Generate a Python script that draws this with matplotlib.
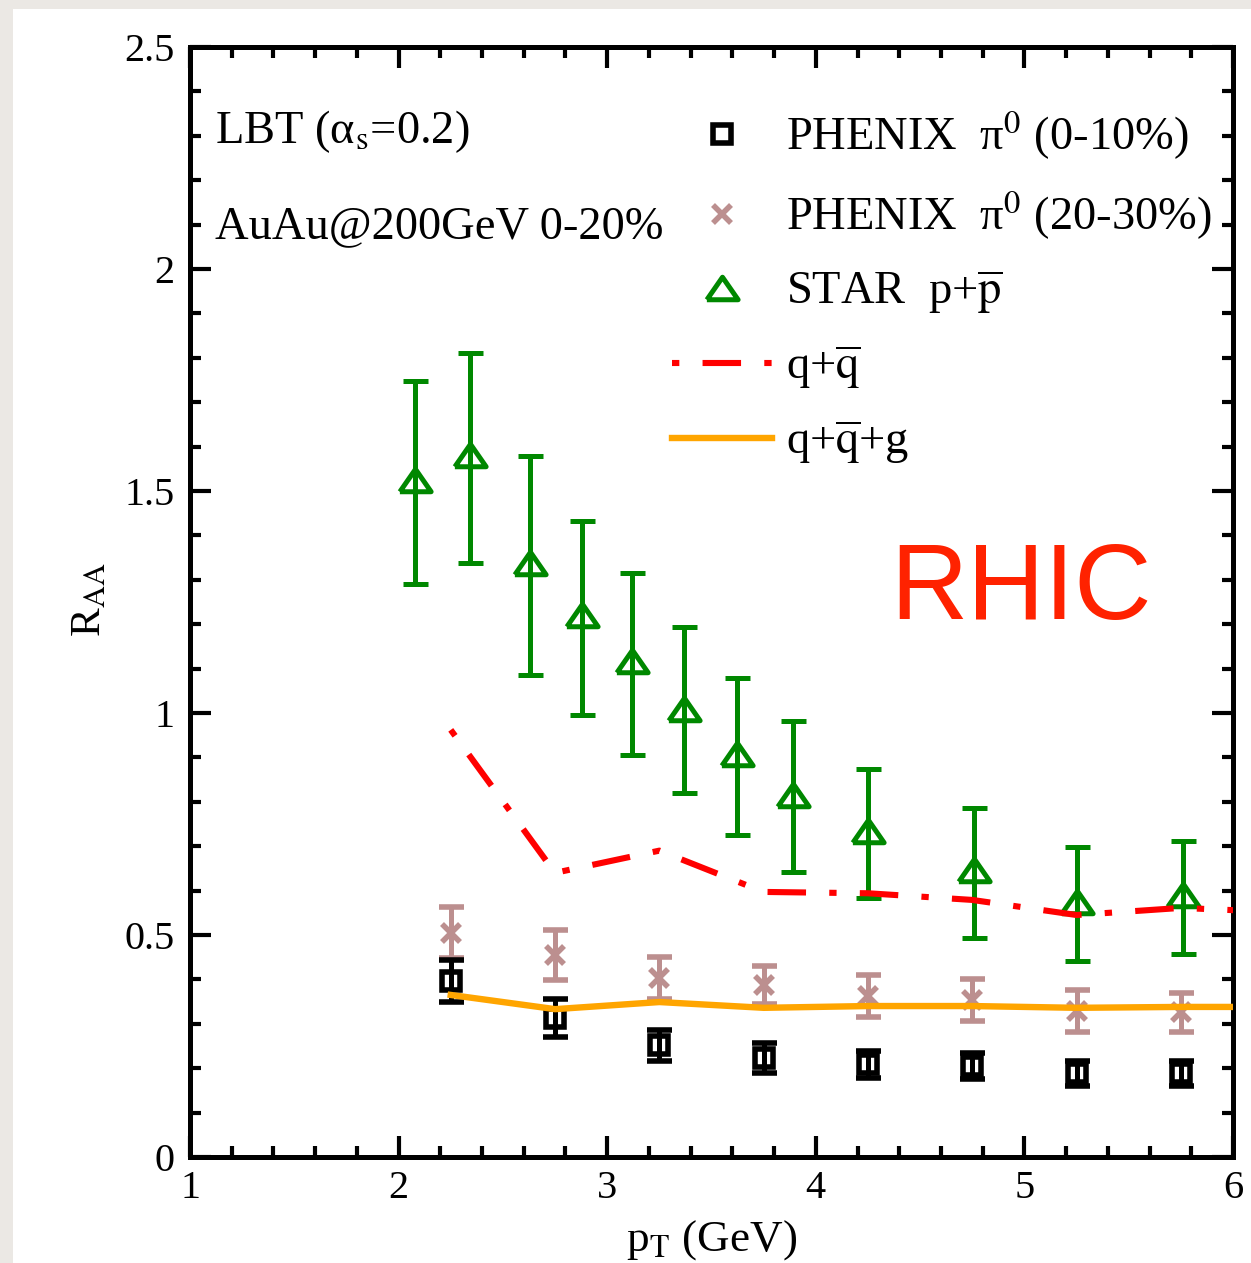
import matplotlib
matplotlib.use('Agg')
import matplotlib.pyplot as plt
from matplotlib.patches import Rectangle
from matplotlib.lines import Line2D
import numpy as np

plt.rcParams['font.family'] = ['Liberation Serif', 'DejaVu Serif']
plt.rcParams['mathtext.fontset'] = 'stix'

# ---------------- data ----------------
pt_phenix = [2.25, 2.75, 3.25, 3.75, 4.25, 4.75, 5.25, 5.75]
raa_phenix_0_10 = [0.396, 0.313, 0.252, 0.223, 0.209, 0.205, 0.189, 0.189]
err_phenix_0_10 = [0.048, 0.042, 0.035, 0.034, 0.030, 0.030, 0.028, 0.028]
raa_phenix_20_30 = [0.505, 0.455, 0.403, 0.387, 0.363, 0.354, 0.329, 0.326]
err_phenix_20_30 = [0.057, 0.057, 0.047, 0.043, 0.048, 0.048, 0.047, 0.044]

pt_star = [2.08, 2.34, 2.63, 2.88, 3.12, 3.37, 3.62, 3.89, 4.25, 4.76, 5.25, 5.76]
raa_star = [1.525, 1.581, 1.337, 1.221, 1.116, 1.010, 0.907, 0.816, 0.735, 0.646, 0.575, 0.590]
raa_star_hi = [1.748, 1.811, 1.579, 1.432, 1.315, 1.194, 1.079, 0.982, 0.874, 0.786, 0.698, 0.712]
raa_star_lo = [1.290, 1.338, 1.086, 0.995, 0.905, 0.820, 0.725, 0.642, 0.583, 0.493, 0.441, 0.457]

pt_theory = [2.25, 2.75, 3.25, 3.75, 4.25, 4.75, 5.25, 5.75, 6.25]
raa_qq = [0.962, 0.640, 0.690, 0.597, 0.594, 0.579, 0.545, 0.561, 0.551]
raa_qqg = [0.365, 0.333, 0.349, 0.336, 0.340, 0.340, 0.336, 0.338, 0.338]

x_ticks = [1, 2, 3, 4, 5, 6]
y_ticks = [0, 0.5, 1, 1.5, 2, 2.5]
y_ticklabels = ['0', '0.5', '1', '1.5', '2', '2.5']

labels = ['PHENIX  π$^0$ (0-10%)', 'PHENIX  π$^0$ (20-30%)',
          r'STAR  p+$\overline{\mathrm{p}}$', r'q+$\overline{\mathrm{q}}$',
          r'q+$\overline{\mathrm{q}}$+g']

# ---------------- style ----------------
c_black = 'black'
c_rosy = '#bc8f8f'
c_green = '#008800'
c_red = '#ff0000'
c_orange = '#ffa500'
FS = 29      # tick labels
FT = 33.5    # annotations / legend
tri = [(-1, -0.72), (1, -0.72), (0, 0.72), (-1, -0.72)]

fig = plt.figure(figsize=(12.51, 12.63), dpi=100)
fig.patch.set_facecolor('#ebe8e4')
fig.patches.append(Rectangle((13 / 1251, 0), 1, (1263 - 9) / 1263,
                             transform=fig.transFigure, facecolor='white',
                             edgecolor='none', zorder=-10))
ax = fig.add_axes([190 / 1251, 106 / 1263, 1043 / 1251, 1110 / 1263])

eb_kw = dict(linestyle='none', capsize=9, capthick=3.6, elinewidth=3.6)

ax.errorbar(pt_star, raa_star,
            yerr=[np.array(raa_star) - np.array(raa_star_lo),
                  np.array(raa_star_hi) - np.array(raa_star)],
            marker=tri, ms=22.5, mew=3.6, mfc='none', mec=c_green,
            color=c_green, zorder=3, **eb_kw)
ax.errorbar(pt_phenix, raa_phenix_20_30, yerr=err_phenix_20_30,
            marker='x', ms=13, mew=4, color=c_rosy, zorder=3, **eb_kw)
ax.errorbar(pt_phenix, raa_phenix_0_10, yerr=err_phenix_0_10,
            marker='s', ms=13, mew=4, mfc='none', mec=c_black,
            color=c_black, zorder=3, **eb_kw)

l_qq, = ax.plot(pt_theory, raa_qq, color=c_red, lw=4.4, zorder=4,
                solid_capstyle='butt', dash_capstyle='butt')
l_qq.set_dashes([1.2, 3.8, 6.3, 3.8])
l_qqg, = ax.plot(pt_theory, raa_qqg, color=c_orange, lw=4.6, zorder=4)

ax.set_xlim(1, 6)
ax.set_ylim(0, 2.5)
ax.set_xticks(x_ticks)
ax.set_xticklabels([str(t) for t in x_ticks])
ax.set_yticks(y_ticks)
ax.set_yticklabels(y_ticklabels)
ax.set_xticks(np.arange(1, 6.01, 0.2), minor=True)
ax.set_yticks(np.arange(0, 2.501, 0.1), minor=True)
ax.tick_params(which='both', direction='in', top=True, right=True,
               labelsize=FS, width=3)
ax.tick_params(which='major', length=15)
ax.tick_params(which='minor', length=8)
ax.tick_params(axis='x', which='major', pad=9)
ax.tick_params(axis='y', which='major', pad=11)
for s in ax.spines.values():
    s.set_linewidth(3.6)

ax.text(0.5, -0.0838, r'p$_\mathrm{T}$ (GeV)', transform=ax.transAxes,
        ha='center', va='baseline', fontsize=32.5)
ax.text(-0.096, 0.502, r'R$_\mathrm{AA}$', transform=ax.transAxes,
        ha='center', va='center', rotation=90, fontsize=31)

ax.text(0.024, 0.9135, 'LBT (α$_\\mathrm{s}$=0.2)', transform=ax.transAxes,
        ha='left', va='baseline', fontsize=FT)
ax.text(0.024, 0.828, 'AuAu@200GeV 0-20%', transform=ax.transAxes,
        ha='left', va='baseline', fontsize=FT)
ax.text(0.671, 0.485, 'RHIC', transform=ax.transAxes, ha='left',
        va='baseline', fontsize=77, color='#ff2200', family='Liberation Sans')

h_sq = Line2D([], [], linestyle='none', marker='s', ms=13, mew=4,
              mfc='none', mec=c_black)
h_x = Line2D([], [], linestyle='none', marker='x', ms=13, mew=4, color=c_rosy)
h_tri = Line2D([], [], linestyle='none', marker=tri, ms=22.5, mew=3.6,
               mfc='none', mec=c_green)
h_qq = Line2D([], [], color=c_red, lw=4.4, dash_capstyle='butt')
h_qq.set_dashes([1.2, 3.8, 6.3, 3.8])
h_qqg = Line2D([], [], color=c_orange, lw=4.6)

ax.legend([h_sq, h_x, h_tri, h_qq, h_qqg], labels, loc='upper left',
          bbox_to_anchor=(0.462, 0.945), frameon=False, fontsize=FT,
          handlelength=72 / FT, handletextpad=0.3, labelspacing=0.57,
          borderpad=0, borderaxespad=0)

fig.savefig('out.png', dpi=100, facecolor=fig.get_facecolor())
